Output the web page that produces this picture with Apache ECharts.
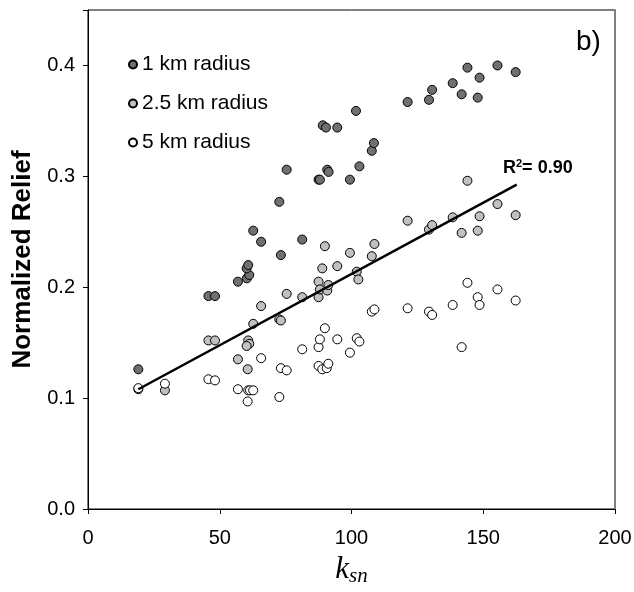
<!DOCTYPE html>
<html><head><meta charset="utf-8">
<script src="https://cdn.jsdelivr.net/npm/echarts@6/dist/echarts.min.js"></script>
<style>html,body{margin:0;padding:0;background:#fff}#c{width:634px;height:592px}</style>
</head><body><div id="c"></div>
<script>
var xTicks = [0, 50, 100, 150, 200];
var yTicks = [0.0, 0.1, 0.2, 0.3, 0.4];
var seriesNames = ['1 km radius', '2.5 km radius', '5 km radius'];
var km1 = [[19.1,0.126],[45.7,0.192],[48.2,0.192],[56.9,0.205],[60.3,0.208],[61.2,0.211],[60.2,0.217],[60.8,0.220],[62.7,0.251],[65.7,0.241],[73.2,0.229],[72.6,0.277],[75.4,0.306],[81.3,0.243],[87.5,0.297],[88.0,0.297],[89.1,0.346],[90.3,0.344],[90.8,0.306],[91.3,0.304],[94.6,0.344],[99.4,0.297],[101.7,0.359],[103,0.309],[107.7,0.323],[108.5,0.330],[121.3,0.367],[129.4,0.369],[130.6,0.378],[138.4,0.384],[141.8,0.374],[144,0.398],[147.9,0.371],[148.6,0.389],[155.4,0.400],[162.3,0.394]];
var km25 = [[19.1,0.108],[29.2,0.107],[45.7,0.152],[48.2,0.152],[56.9,0.135],[60.6,0.126],[60.8,0.152],[61.2,0.149],[60.2,0.147],[62.7,0.167],[65.7,0.183],[72.6,0.171],[73.2,0.170],[75.4,0.194],[81.3,0.191],[87.5,0.191],[87.5,0.205],[88.0,0.198],[88.9,0.217],[89.9,0.237],[90.8,0.197],[91.2,0.202],[94.6,0.219],[99.4,0.231],[102,0.214],[102.6,0.207],[107.7,0.228],[108.7,0.239],[121.3,0.260],[129.4,0.252],[130.6,0.256],[138.4,0.263],[141.8,0.249],[144,0.296],[147.9,0.251],[148.6,0.264],[155.4,0.275],[162.3,0.265]];
var km5 = [[19.1,0.109],[29.2,0.113],[45.7,0.117],[48.2,0.116],[56.9,0.108],[60.6,0.097],[60.8,0.107],[61.5,0.107],[62.7,0.107],[65.7,0.136],[72.6,0.101],[73.2,0.127],[75.4,0.125],[81.3,0.144],[87.5,0.129],[87.5,0.146],[88.0,0.153],[88.9,0.126],[89.9,0.163],[90.6,0.127],[91.2,0.131],[94.6,0.153],[99.4,0.141],[102,0.154],[103,0.151],[107.7,0.178],[108.7,0.180],[121.3,0.181],[129.4,0.178],[130.6,0.175],[138.4,0.184],[141.8,0.146],[144,0.204],[147.9,0.191],[148.6,0.184],[155.4,0.198],[162.3,0.188]];
var fitX = [19.1, 162.7];
var fitY = [0.108, 0.2925];
var r2Text = '0.90';

var chart = echarts.init(document.getElementById('c'));
var colors = ['#707070', '#c0c0c0', '#ffffff'];
var sans = 'Liberation Sans, Arial, sans-serif';
var serif = 'Liberation Serif, Times New Roman, serif';
function sc(name, data, color) {
  return {
    name: name, type: 'scatter', data: data, symbol: 'circle', symbolSize: 9,
    itemStyle: { color: color, borderColor: '#000', borderWidth: 1, opacity: 1 },
    emphasis: { disabled: true }, z: 2
  };
}
chart.setOption({
  animation: false,
  grid: { left: 88, right: 19, top: 10, bottom: 83, show: true, borderColor: '#000', borderWidth: 1,
    containLabel: false, outerBoundsMode: 'none' },
  legend: {
    orient: 'vertical', left: 123, top: 49, itemGap: 18, itemWidth: 8, itemHeight: 8, icon: 'circle',
    data: seriesNames,
    textStyle: { fontFamily: sans, fontSize: 21, color: '#000', padding: [0,0,0,0] },
    selectedMode: false
  },
  xAxis: [{
    type: 'value', min: xTicks[0], max: xTicks[xTicks.length-1], interval: 50,
    axisLine: { lineStyle: { color: '#000', width: 1 } },
    axisTick: { show: true, length: 5, lineStyle: { color: '#000' } },
    splitLine: { show: false },
    axisLabel: { fontFamily: sans, fontSize: 20, color: '#000', margin: 19 },
    name: '{k|k}{s|sn}', nameLocation: 'middle', nameGap: 44,
    nameTextStyle: { rich: {
      k: { fontFamily: serif, fontStyle: 'italic', fontSize: 31, color: '#000' },
      s: { fontFamily: serif, fontStyle: 'italic', fontSize: 21, color: '#000', verticalAlign: 'bottom', padding: [13,0,0,0] }
    } }
  }],
  yAxis: [{
    type: 'value', min: 0, max: 0.45, interval: 0.1,
    axisLine: { show: true, lineStyle: { color: '#000', width: 1 } },
    axisTick: { show: true, length: 5, lineStyle: { color: '#000' } },
    splitLine: { show: false },
    axisLabel: { fontFamily: sans, fontSize: 20, color: '#000', margin: 13,
      formatter: function (v) { return yTicks.some(function(t){return Math.abs(t-v)<1e-9;}) ? v.toFixed(1) : ''; } },
    name: 'Normalized Relief', nameLocation: 'middle', nameGap: 44, nameRotate: 90,
    nameTextStyle: { fontFamily: sans, fontWeight: 'bold', fontSize: 26, color: '#000' }
  }, {
    type: 'value', position: 'right', min: 0, max: 0.45, interval: 0.1,
    axisLine: { show: true, lineStyle: { color: '#808080', width: 2 } },
    axisTick: { show: false }, axisLabel: { show: false }, splitLine: { show: false }
  }],
  series: [
    sc(seriesNames[0], km1, colors[0]),
    sc(seriesNames[1], km25, colors[1]),
    sc(seriesNames[2], km5, colors[2]),
    { type: 'line', data: fitX.map(function(x,i){return [x, fitY[i]];}), symbol: 'none',
      lineStyle: { color: '#000', width: 2.5 }, z: 5, silent: true }
  ],
  graphic: [
    { type: 'text', left: 503, top: 158, style: {
      text: '{b|R}{sup|2}{b|= ' + r2Text + '}',
      rich: {
        b: { fontFamily: sans, fontWeight: 'bold', fontSize: 18, fill: '#000' },
        sup: { fontFamily: sans, fontWeight: 'bold', fontSize: 11, fill: '#000', verticalAlign: 'top', padding: [0,0,9,0] }
      } } },
    { type: 'text', left: 576, top: 28, style: { text: 'b)', fontFamily: sans, fontSize: 28, fill: '#000' } }
  ]
});
</script></body></html>
